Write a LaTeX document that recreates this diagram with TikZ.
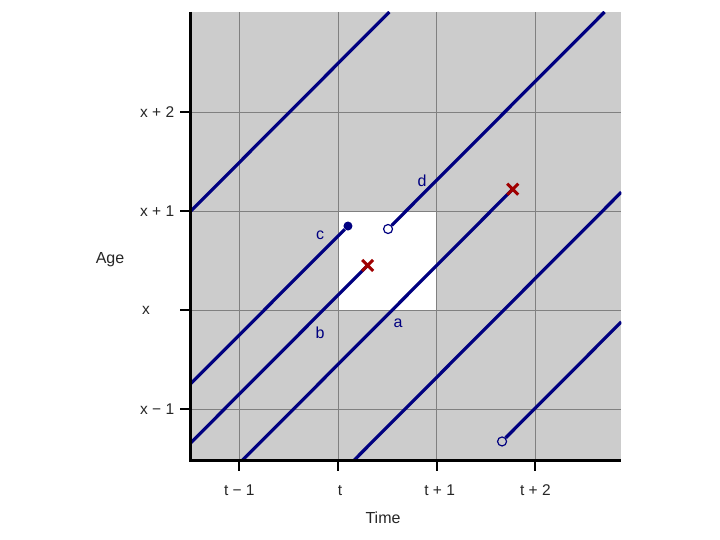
\documentclass[tikz,border=0pt]{standalone}
\usepackage{fontspec}
\setmainfont{Liberation Sans}
\usetikzlibrary{shapes.misc,positioning}

\definecolor{lifeblue}{RGB}{0,0,128}
\definecolor{deathred}{RGB}{160,0,0}
\definecolor{panelgray}{RGB}{204,204,204}

\begin{document}
\begin{tikzpicture}[x=98.7pt, y=99pt,
    gridline/.style={draw=black!50, line width=0.9pt},
    axisline/.style={draw=black, line width=3pt},
    tickmark/.style={draw=black, line width=2pt},
    life/.style={draw=lifeblue, line width=3.2pt},
    opendot/.style={circle, draw=lifeblue, line width=1.2pt, inner sep=0pt, minimum size=9pt},
    fulldot/.style={circle, fill=lifeblue, inner sep=0pt, minimum size=9pt},
    death/.style={cross out, draw=deathred, line width=3pt, inner sep=0pt, minimum size=8pt},
    ticklabel/.style={font=\fontsize{15.5}{18}\selectfont, text=black!85},
    axislabel/.style={font=\fontsize{16}{18}\selectfont, text=black!85},
    linelabel/.style={font=\fontsize{16}{18}\selectfont, text=lifeblue}
]

% Canvas
\useasboundingbox[fill=white] (-3.4245,-2.323) rectangle (3.870,3.131);

% Panel
\coordinate (origin) at (-1.49,-1.52);
\coordinate (ytop) at (-1.49,3.01);
\coordinate (xend) at (2.87,-1.52);
\coordinate (corner) at (2.87,3.01);
\fill[panelgray] (origin) rectangle (corner);
\fill[white] (0,0) rectangle (1,1);

% Grid
\draw[gridline] (-1,-1.52) -- (-1,3.01) (0,-1.52) -- (0,3.01)
    (1,-1.52) -- (1,3.01) (2,-1.52) -- (2,3.01);
\draw[gridline] (-1.49,-1) -- (2.87,-1) (-1.49,0) -- (2.87,0)
    (-1.49,1) -- (2.87,1) (-1.49,2) -- (2.87,2);

% Lifelines
\coordinate (ctop) at (0.101,0.848);
\coordinate (bdeath) at (0.30,0.45);
\coordinate (adeath) at (1.77,1.22);
\node[fulldot] (cend) at (ctop) {};
\node[opendot] (dstart) at (0.507,0.818) {};
\node[opendot] (estart) at (1.662,-1.328) {};
\begin{scope}
    \clip (origin) rectangle (corner);
    \draw[life] (-1.49,1.0) -- (0.52,3.01);
    \draw[life] (dstart) -- (2.70,3.01);
    \draw[life] (-1.49,-0.743) -- (cend);
    \draw[life] (-1.49,-1.34) -- (bdeath);
    \draw[life] (-0.97,-1.52) -- (adeath);
    \draw[life] (0.16,-1.52) -- (2.87,1.19);
    \draw[life] (estart) -- (2.87,-0.12);
\end{scope}
\node[death] (bx) at (bdeath) {};
\node[death] (ax) at (adeath) {};

% Line labels
\node[linelabel] (la) at (0.608,-0.131) {a};
\node[linelabel] (lb) at (-0.182,-0.232) {b};
\node[linelabel] (lc) at (-0.182,0.758) {c};
\node[linelabel] (ld) at (0.851,1.303) {d};

% Axes
\draw[axisline] (ytop) -- (origin) -- (xend);
\draw[tickmark] (-1.6,-1) -- (-1.49,-1) (-1.6,0) -- (-1.49,0)
    (-1.6,1) -- (-1.49,1) (-1.6,2) -- (-1.49,2);
\draw[tickmark] (-1,-1.52) -- (-1,-1.63) (0,-1.52) -- (0,-1.63)
    (1,-1.52) -- (1,-1.63) (2,-1.52) -- (2,-1.63);

% Tick labels
\node[ticklabel, anchor=west] (ym1) at (-2.04,-1) {x − 1};
\node[ticklabel, anchor=west] (y0) at (-2.02,0) {x};
\node[ticklabel, anchor=west] (y1) at (-2.04,1) {x + 1};
\node[ticklabel, anchor=west] (y2) at (-2.04,2) {x + 2};
\node[ticklabel] (tm1) at (-1.0,-1.82) {t − 1};
\node[ticklabel] (t0) at (0.02,-1.82) {t};
\node[ticklabel] (t1) at (1.03,-1.82) {t + 1};
\node[ticklabel] (t2) at (2.0,-1.82) {t + 2};

% Axis titles
\node[axislabel] (age) at (-2.31,0.505) {Age};
\node[axislabel] (time) at (0.456,-2.10) {Time};

\end{tikzpicture}
\end{document}
